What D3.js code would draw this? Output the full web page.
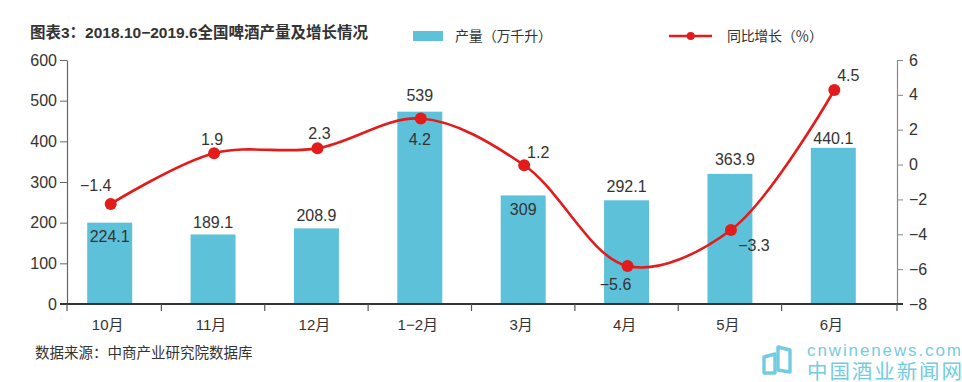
<!DOCTYPE html>
<html><head><meta charset="utf-8">
<script src="https://cdn.jsdelivr.net/npm/d3@7/dist/d3.min.js"></script>
<style>
html,body{margin:0;padding:0;background:#fff;}
svg text{font-family:"Liberation Sans","Noto Sans CJK SC",sans-serif;}
</style></head>
<body>
<svg id="c" width="962" height="382"></svg>
<script>
// ---- data ----
const categories = ['10月','11月','12月','1−2月','3月','4月','5月','6月'];
const outputValues = [200, 171, 186, 473, 267, 255, 320, 384];           // bar heights as drawn
const outputLabels = ['224.1','189.1','208.9','539','309','292.1','363.9','440.1'];
const growthValues = [-2.26, 0.65, 0.93, 2.64, -0.04, -5.82, -3.75, 4.28]; // points as drawn
const growthLabels = ['−1.4','1.9','2.3','4.2','1.2','−5.6','−3.3','4.5'];
const leftTicks = [0,100,200,300,400,500,600];
const rightTicks = [-8,-6,-4,-2,0,2,4,6];
const titleText = '图表3：2018.10−2019.6全国啤酒产量及增长情况';
const legendBar = '产量（万千升）';
const legendLine = '同比增长（％）';
const sourceText = '数据来源：中商产业研究院数据库';

// ---- layout/style ----
const BAR = '#5ec1da', RED = '#e31b1b', TXT = '#333';
const svg = d3.select('#c');
const plotTop = 60, plotBottom = 304, xl = 67, xr = 897;

const x = d3.scaleBand().domain(categories).range([58, 885]).paddingInner(0.565).paddingOuter(0.2825);
const yL = d3.scaleLinear().domain([0, 600]).range([plotBottom, plotTop]);
const yR = d3.scaleLinear().domain([-8, 6]).range([plotBottom, plotTop]);

// title
svg.append('text').attr('x', 30).attr('y', 37.5).attr('font-size', 15.5).attr('font-weight', 'bold')
  .attr('fill', TXT).text(titleText);

// legend
svg.append('rect').attr('x', 413).attr('y', 31).attr('width', 30).attr('height', 10).attr('fill', BAR);
svg.append('text').attr('x', 455).attr('y', 41).attr('font-size', 14).attr('fill', TXT)
  .attr('textLength', 97).attr('lengthAdjust', 'spacing').text(legendBar);
svg.append('line').attr('x1', 669).attr('x2', 712).attr('y1', 36).attr('y2', 36).attr('stroke', RED).attr('stroke-width', 2.5);
svg.append('circle').attr('cx', 690.7).attr('cy', 36).attr('r', 4).attr('fill', RED);
svg.append('text').attr('x', 727).attr('y', 41).attr('font-size', 14).attr('fill', TXT)
  .attr('textLength', 96).attr('lengthAdjust', 'spacing').text(legendLine);

// bars
svg.append('g').selectAll('rect').data(outputValues).join('rect')
  .attr('x', (d, i) => x(categories[i])).attr('width', x.bandwidth())
  .attr('y', d => yL(d)).attr('height', d => plotBottom - yL(d)).attr('fill', BAR);

// left axis
const gL = svg.append('g').attr('transform', `translate(${xl},0)`)
  .call(d3.axisLeft(yL).tickValues(leftTicks).tickSize(7).tickSizeOuter(0).tickPadding(3));
gL.select('.domain').attr('stroke', '#666').attr('stroke-width', 1.2);
gL.selectAll('.tick line').attr('stroke', '#666');
gL.selectAll('.tick text').attr('font-size', 16).attr('fill', TXT).attr('font-family', '"Liberation Sans",sans-serif');

// right axis
const gR = svg.append('g').attr('transform', `translate(${xr},0)`)
  .call(d3.axisRight(yR).tickValues(rightTicks).tickSize(6).tickSizeOuter(0).tickPadding(6));
gR.select('.domain').attr('stroke', '#888').attr('stroke-width', 1.2);
gR.selectAll('.tick line').attr('stroke', '#888');
gR.selectAll('.tick text').attr('font-size', 16).attr('fill', TXT).attr('font-family', '"Liberation Sans",sans-serif');

// x axis
const gX = svg.append('g');
gX.append('line').attr('x1', xl - 7).attr('x2', xr + 6).attr('y1', plotBottom).attr('y2', plotBottom)
  .attr('stroke', '#333').attr('stroke-width', 1.8);
const step = x.step();
const tickXs = [xl].concat(d3.range(1, categories.length).map(k => x.range()[0] + step * k)).concat([xr]);
gX.selectAll('line.t').data(tickXs).join('line').attr('class', 't')
  .attr('x1', d => d).attr('x2', d => d).attr('y1', plotBottom).attr('y2', plotBottom + 7)
  .attr('stroke', '#555').attr('stroke-width', 1.2);
gX.selectAll('text').data(categories).join('text')
  .attr('x', d => x(d) + x.bandwidth() / 2 - 2).attr('y', 329.5)
  .attr('text-anchor', 'middle').attr('font-size', 15).attr('fill', TXT).text(d => d);

// bar labels (placement: positive = inside bar top, negative = above)
const barLabelDy = [14, -12.5, -13, -16, 14, -13.5, -14.5, -9.5];
svg.append('g').selectAll('text').data(outputLabels).join('text')
  .attr('x', (d, i) => x(categories[i]) + x.bandwidth() / 2 + (i === 6 ? 5 : 0))
  .attr('y', (d, i) => yL(outputValues[i]) + barLabelDy[i])
  .attr('dy', '0.35em').attr('text-anchor', 'middle').attr('font-size', 16).attr('fill', TXT)
  .text(d => d);

// line
const cx = i => x(categories[i]) + x.bandwidth() / 2 + 1;
const line = d3.line().x((d, i) => cx(i)).y(d => yR(d)).curve(d3.curveCatmullRom.alpha(0.5));
svg.append('path').datum(growthValues).attr('d', line).attr('fill', 'none')
  .attr('stroke', RED).attr('stroke-width', 2.6);
svg.append('g').selectAll('circle').data(growthValues).join('circle')
  .attr('cx', (d, i) => cx(i)).attr('cy', d => yR(d)).attr('r', 6).attr('fill', RED);

const lineLabelOff = [[-15, -19], [-2, -14], [2, -15], [-1, 21], [14, -13], [-12, 18], [23, 15], [14, -15]];
svg.append('g').selectAll('text').data(growthLabels).join('text')
  .attr('x', (d, i) => cx(i) + lineLabelOff[i][0])
  .attr('y', (d, i) => yR(growthValues[i]) + lineLabelOff[i][1])
  .attr('dy', '0.35em').attr('text-anchor', 'middle').attr('font-size', 16).attr('fill', TXT)
  .text(d => d);

// source
svg.append('text').attr('x', 35).attr('y', 358).attr('font-size', 14.5).attr('fill', TXT).text(sourceText);

// watermark
const WM = '#74cce1';
const wm = svg.append('g').attr('fill', 'none').attr('stroke', WM).attr('stroke-width', 3.4).attr('stroke-linejoin', 'round');
wm.append('path').attr('d', 'M764,373 L764,357 L775,354 L775,373 Z');
wm.append('path').attr('d', 'M778,347 L790,350 L790,372 L778,370 Z');
svg.append('text').attr('x', 807).attr('y', 355.5).attr('font-size', 17).attr('fill', WM)
  .attr('textLength', 154).attr('lengthAdjust', 'spacing').attr('font-family', '"DejaVu Sans",sans-serif')
  .attr('font-weight', 'lighter').text('cnwinenews.com');
svg.append('text').attr('x', 807).attr('y', 378.5).attr('font-size', 20.5).attr('fill', WM)
  .attr('textLength', 155).attr('lengthAdjust', 'spacing').text('中国酒业新闻网');
</script>
</body></html>
